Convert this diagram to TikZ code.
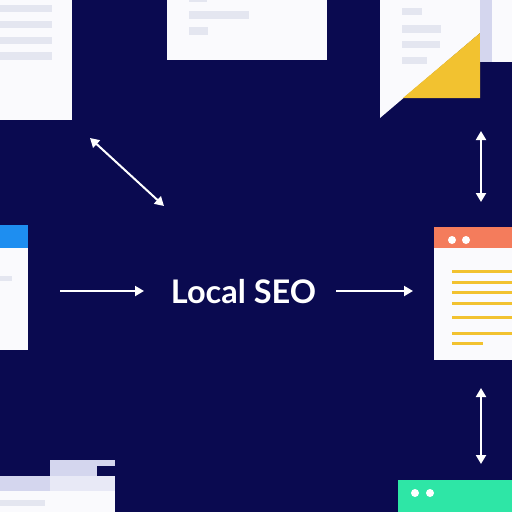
\documentclass[tikz,border=0pt]{standalone}
\usepackage{fontspec}
\setmainfont{Lato}
\usetikzlibrary{arrows.meta}
\definecolor{bgnavy}{HTML}{0A0A50}
\definecolor{paper}{HTML}{FAFAFD}
\definecolor{greyline}{HTML}{E4E6F0}
\definecolor{bluehead}{HTML}{1E8EF0}
\definecolor{orangehead}{HTML}{F47C5C}
\definecolor{yellowline}{HTML}{F2C230}
\definecolor{mint}{HTML}{2EE6A6}
\definecolor{lavender}{HTML}{D4D6EE}
\definecolor{lightlav}{HTML}{E8E9F6}
\tikzset{
  pagebox/.style={fill=paper, draw=none},
  textline/.style={fill=greyline, draw=none},
  yline/.style={draw=yellowline, line width=3pt},
  dot/.style={circle, fill=white, minimum size=8pt, inner sep=0pt},
  arrowline/.style={draw=white, line width=2pt, -{Triangle[length=9pt,width=10pt]}},
  darrowline/.style={draw=white, line width=2pt, {Triangle[length=9pt,width=10pt]}-{Triangle[length=9pt,width=10pt]}},
  title/.style={text=white, font=\fontsize{32.5}{32.5}\selectfont\bfseries, inner sep=0pt}
}
\begin{document}
\begin{tikzpicture}[x=1pt,y=-1pt]
\fill[bgnavy] (0,0) rectangle (512,512);
\useasboundingbox (0,0) rectangle (512,512);

% top-left document
\fill[pagebox] (0,0) rectangle (72,120);
\fill[textline] (0,5) rectangle (52,12);
\fill[textline] (0,21) rectangle (52,28);
\fill[textline] (0,37) rectangle (52,44);
\fill[textline] (0,52) rectangle (52,60);

% top-centre document
\fill[pagebox] (167,0) rectangle (327,60);
\fill[textline] (189,0) rectangle (207,2);
\fill[textline] (189,11) rectangle (249,19);
\fill[textline] (189,27) rectangle (208,35);

% top-right document with folded corner
\fill[pagebox] (380,0) -- (480,0) -- (480,33) -- (380,118) -- cycle;
\fill[yellowline] (403,98) -- (480,98) -- (480,33) -- cycle;
\fill[lavender] (480,0) rectangle (492,62);
\fill[paper] (492,0) rectangle (512,62);
\fill[textline] (402,8) rectangle (422,15);
\fill[textline] (402,25) rectangle (441,33);
\fill[textline] (402,41) rectangle (440,48);
\fill[textline] (402,57) rectangle (427,64);

% left-middle window
\fill[pagebox] (0,225) rectangle (28,350);
\fill[bluehead] (0,225) rectangle (28,248);
\fill[textline] (0,276) rectangle (12,281);

% right-middle window
\fill[pagebox] (434,227) rectangle (512,360);
\fill[orangehead] (434,227) rectangle (512,248);
\node[dot] (rd1) at (452,240) {};
\node[dot] (rd2) at (466,240) {};
\foreach \yy in {271,282,292,303,317,333} {\draw[yline] (452,\yy) -- (512,\yy);}
\draw[yline] (452,343) -- (483,343);

% bottom-left blocks
\fill[lavender] (50,460) rectangle (115,476);
\fill[bgnavy] (97,466) rectangle (115,476);
\fill[lavender] (0,476) rectangle (50,491);
\fill[lightlav] (50,476) rectangle (115,491);
\fill[paper] (0,491) rectangle (115,512);
\fill[textline] (0,500) rectangle (45,506);

% bottom-right window
\fill[mint] (398,480) rectangle (512,512);
\node[dot] (gd1) at (415,493) {};
\node[dot] (gd2) at (430,493) {};

% title
\node[title] (seo) at (243.5,292) {Local SEO};

% arrows
\coordinate (a1s) at (90,138);
\coordinate (a1e) at (164,206);
\draw[darrowline] (a1s) -- (a1e);
\coordinate (a2s) at (481,131);
\coordinate (a2e) at (481,202);
\draw[darrowline] (a2s) -- (a2e);
\coordinate (a3s) at (481,388);
\coordinate (a3e) at (481,464);
\draw[darrowline] (a3s) -- (a3e);
\coordinate (a4s) at (60,291);
\coordinate (a4e) at (144,291);
\draw[arrowline] (a4s) -- (a4e);
\coordinate (a5s) at (336,291);
\coordinate (a5e) at (413,291);
\draw[arrowline] (a5s) -- (a5e);
\end{tikzpicture}
\end{document}
